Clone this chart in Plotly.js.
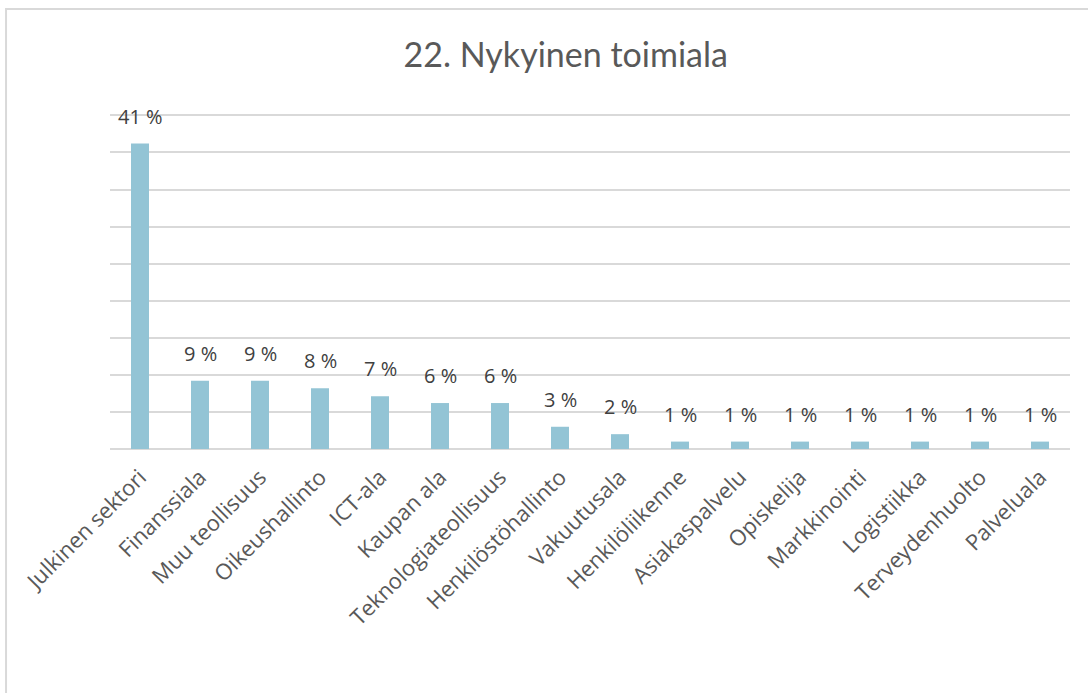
<!DOCTYPE html>
<html>
<head>
<meta charset="utf-8">
<script src="https://cdn.plot.ly/plotly-3.0.1.min.js"></script>
<style>
html, body { margin: 0; padding: 0; background: #fff; overflow: hidden; }
#chart { width: 1088px; height: 693px; }
</style>
</head>
<body>
<div id="chart"></div>
<script>
const categories = [
  "Julkinen sektori", "Finanssiala", "Muu teollisuus", "Oikeushallinto",
  "ICT-ala", "Kaupan ala", "Teknologiateollisuus", "Henkilöstöhallinto",
  "Vakuutusala", "Henkilöliikenne", "Asiakaspalvelu", "Opiskelija",
  "Markkinointi", "Logistiikka", "Terveydenhuolto", "Palveluala"
];
const values = [41.2, 9.2, 9.2, 8.2, 7.1, 6.2, 6.2, 3.0, 2.0, 1.0, 1.0, 1.0, 1.0, 1.0, 1.0, 1.0];
const labels = values.map(v => Math.round(v) + " %");
const titleText = "22. Nykyinen toimiala";

const trace = {
  type: "bar",
  x: categories,
  y: values,
  marker: { color: "#93C4D5" },
  hoverinfo: "skip"
};

const annotations = categories.map((c, i) => ({
  x: c, y: values[i], xref: "x", yref: "y",
  text: labels[i], showarrow: false,
  yanchor: "bottom", yshift: 12,
  font: { family: "Open Sans, sans-serif", size: 20, color: "#404040" }
}));

const layout = {
  width: 1088, height: 693,
  margin: { l: 110, r: 18, t: 108, b: 244, pad: 0 },
  paper_bgcolor: "#ffffff", plot_bgcolor: "#ffffff",
  showlegend: false,
  bargap: 0.7,
  title: {
    text: titleText,
    x: 0.52, xanchor: "center", xref: "container",
    y: 1 - 55 / 693, yanchor: "middle", yref: "container",
    font: { family: "Lato, sans-serif", size: 34, color: "#595959" }
  },
  xaxis: {
    range: [-0.5, 15.5],
    automargin: false,
    tickangle: -45,
    showline: false, showgrid: false, zeroline: false,
    ticks: "", ticklabelstandoff: 10,
    tickfont: { family: "Open Sans, sans-serif", size: 22, color: "#595959" },
    fixedrange: true
  },
  yaxis: {
    range: [0, 46], tick0: 0, dtick: 5,
    automargin: false,
    showticklabels: false, ticks: "",
    showgrid: true, gridcolor: "#d9d9d9", gridwidth: 2,
    zeroline: true, zerolinecolor: "#d9d9d9", zerolinewidth: 2,
    showline: false, fixedrange: true
  },
  annotations: annotations,
  shapes: [{
    type: "rect", xref: "paper", yref: "paper", layer: "below",
    x0: -0.1083, x1: 1.3, y0: -1.0, y1: 1.29,
    line: { color: "#d9d9d9", width: 2 }, fillcolor: "rgba(0,0,0,0)"
  }]
};

Plotly.newPlot("chart", [trace], layout, { displayModeBar: false, staticPlot: true });
</script>
</body>
</html>
